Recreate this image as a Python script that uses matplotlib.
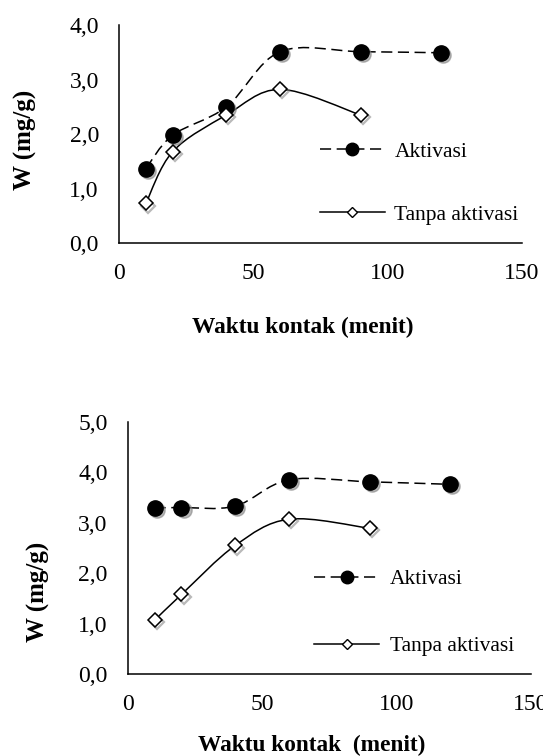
import numpy as np
import matplotlib
matplotlib.use('Agg')
import matplotlib.pyplot as plt
from matplotlib.path import Path
from matplotlib.patches import PathPatch
from matplotlib.lines import Line2D
from matplotlib.transforms import offset_copy

# data
waktu = [10, 20, 40, 60, 90, 120]
waktu_tanpa = [10, 20, 40, 60, 90]

aktivasi_a = [1.37, 1.98, 2.50, 3.51, 3.51, 3.49]
tanpa_a = [0.73, 1.68, 2.35, 2.82, 2.35]

aktivasi_b = [3.30, 3.30, 3.33, 3.85, 3.81, 3.76]
tanpa_b = [1.07, 1.58, 2.55, 3.07, 2.89]

xticks = [0, 50, 100, 150]
yticks_a = [0, 1, 2, 3, 4]
yticks_b = [0, 1, 2, 3, 4, 5]

plt.rcParams['font.family'] = ['Liberation Serif', 'DejaVu Serif']
plt.rcParams['lines.scale_dashes'] = False
FS_TICK = 17
FS_LEG = 15.5
FS_XLAB = 16.8
FS_YLAB = 18


def smooth_path(x, y):
    # excel-like smoothed line: cubic bezier through the points
    p = np.column_stack([x, y]).astype(float)
    n = len(p)
    verts = [p[0]]
    codes = [Path.MOVETO]
    for i in range(n - 1):
        p0 = p[i - 1] if i > 0 else p[i]
        p1 = p[i]
        p2 = p[i + 1]
        p3 = p[i + 2] if i + 2 < n else p[i + 1]
        c1 = p1 + (p2 - p0) / 6.0
        c2 = p2 - (p3 - p1) / 6.0
        verts += [c1, c2, p2]
        codes += [Path.CURVE4] * 3
    return Path(verts, codes)


def panel(ax, ya, yt, yticks, fig):
    ax.add_patch(PathPatch(smooth_path(waktu, ya), fill=False, ec='black',
                           lw=1.1, ls=(0, (8, 4)), zorder=2))
    ax.add_patch(PathPatch(smooth_path(waktu_tanpa, yt), fill=False, ec='black',
                           lw=1.1, zorder=2))
    sh = offset_copy(ax.transData, fig=fig, x=1.5, y=-1.5, units='points')
    ax.plot(waktu, ya, ls='none', marker='o', ms=11, mfc='#808080', mec='#808080',
            alpha=0.55, transform=sh, zorder=3, clip_on=False)
    ax.plot(waktu_tanpa, yt, ls='none', marker='D', ms=6.8, mfc='none', mec='#808080',
            mew=1.6, alpha=0.55, transform=sh, zorder=3, clip_on=False)
    ax.plot(waktu, ya, ls='none', marker='o', ms=11, mfc='black', mec='black', zorder=4,
            clip_on=False)
    ax.plot(waktu_tanpa, yt, ls='none', marker='D', ms=6.8, mfc='white', mec='black',
            mew=1.1, zorder=4, clip_on=False)

    ax.set_xlim(0, 150)
    ax.set_ylim(0, yticks[-1])
    ax.set_xticks(xticks)
    ax.set_xticklabels([str(v) for v in xticks])
    ax.set_yticks(yticks)
    ax.set_yticklabels([f'{v:.1f}'.replace('.', ',') for v in yticks])
    ax.tick_params(length=0, labelsize=FS_TICK)
    ax.tick_params(axis='y', pad=14.5)
    ax.tick_params(axis='x', pad=14.5)
    for s in ['top', 'right']:
        ax.spines[s].set_visible(False)
    for s in ['left', 'bottom']:
        ax.spines[s].set_linewidth(1.1)


fig = plt.figure(figsize=(5.43, 7.56), dpi=100)
ax1 = fig.add_axes([0.2192, 0.6782, 0.7416, 0.2888])
ax2 = fig.add_axes([0.2352, 0.1081, 0.7427, 0.3341])

panel(ax1, aktivasi_a, tanpa_a, yticks_a, fig)
panel(ax2, aktivasi_b, tanpa_b, yticks_b, fig)

handles = [
    Line2D([], [], color='black', lw=1.1, ls=(0, (8, 4)), marker='o', ms=9, mfc='black'),
    Line2D([], [], color='black', lw=1.1, marker='D', ms=5.5, mfc='white', mec='black'),
]
labels = ['Aktivasi', 'Tanpa aktivasi']

fig.legend(handles, labels, loc='center left', bbox_to_anchor=(0.5893, 0.7574),
           frameon=False, fontsize=FS_LEG, handlelength=3.0, handletextpad=0.46,
           labelspacing=2.0, borderpad=0, borderaxespad=0)
fig.legend(handles, labels, loc='center left', bbox_to_anchor=(0.5788, 0.1894),
           frameon=False, fontsize=FS_LEG, handlelength=3.0, handletextpad=0.5,
           labelspacing=2.18, borderpad=0, borderaxespad=0)

fig.text(25 / 543, 1 - 140 / 756, 'W (mg/g)', rotation=90, ha='center', va='center',
         fontsize=FS_YLAB, fontweight='bold')
fig.text(38.3 / 543, 1 - 591.7 / 756, 'W (mg/g)', rotation=90, ha='center', va='center',
         fontsize=FS_YLAB, fontweight='bold')
fig.text(303 / 543, 1 - 327 / 756, 'Waktu kontak (menit)', ha='center', va='center',
         fontsize=FS_XLAB, fontweight='bold')
fig.text(312 / 543, 1 - 745.5 / 756, 'Waktu kontak  (menit)', ha='center', va='center',
         fontsize=FS_XLAB, fontweight='bold')

fig.savefig('out.png', dpi=100)
